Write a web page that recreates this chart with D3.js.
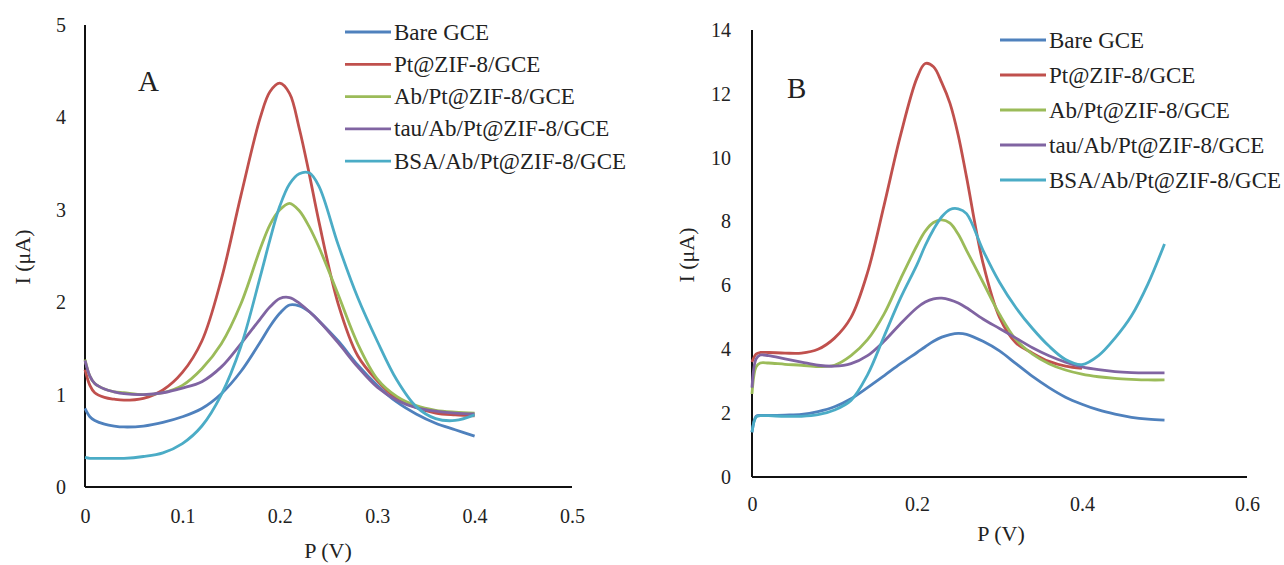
<!DOCTYPE html>
<html>
<head>
<meta charset="utf-8">
<style>
body { margin: 0; background: #fff; }
svg text { font-family: "Liberation Serif", "Times New Roman", serif; fill: #222; }
.axis path { stroke: #111; stroke-width: 2px; }
.axis line { display: none; }
.axis text { font-size: 20px; font-family: "Liberation Serif", serif; fill: #222; }
.curve { fill: none; stroke-width: 2.8px; stroke-linejoin: round; }
</style>
</head>
<body>
<svg id="chart" width="1284" height="565"></svg>
<script src="https://d3js.org/d3.v7.min.js"></script>
<script>

var seriesNames = ["Bare GCE", "Pt@ZIF-8/GCE", "Ab/Pt@ZIF-8/GCE", "tau/Ab/Pt@ZIF-8/GCE", "BSA/Ab/Pt@ZIF-8/GCE"];
var colors = ["#4F81BD", "#C0504D", "#9BBB59", "#8064A2", "#4BACC6"];

// panel A
var xA = [0, 0.005, 0.01, 0.02, 0.03, 0.04, 0.06, 0.08, 0.10, 0.12, 0.14, 0.16, 0.18, 0.19, 0.20, 0.21, 0.22, 0.23, 0.24, 0.26, 0.28, 0.30, 0.32, 0.34, 0.36, 0.38, 0.40];
var bareA = [0.85, 0.76, 0.72, 0.68, 0.66, 0.65, 0.66, 0.70, 0.76, 0.85, 1.01, 1.25, 1.57, 1.74, 1.88, 1.97, 1.96, 1.90, 1.80, 1.58, 1.32, 1.10, 0.92, 0.79, 0.69, 0.62, 0.55];
var ptA   = [1.27, 1.10, 1.02, 0.97, 0.95, 0.94, 0.96, 1.05, 1.24, 1.58, 2.25, 3.15, 4.00, 4.28, 4.37, 4.26, 3.88, 3.40, 2.88, 1.98, 1.42, 1.15, 0.96, 0.86, 0.80, 0.78, 0.77];
var abA   = [1.38, 1.20, 1.12, 1.06, 1.03, 1.02, 1.00, 1.02, 1.10, 1.28, 1.55, 1.98, 2.58, 2.84, 3.00, 3.07, 2.99, 2.82, 2.60, 2.08, 1.55, 1.17, 0.98, 0.88, 0.83, 0.81, 0.80];
var tauA  = [1.37, 1.20, 1.12, 1.06, 1.03, 1.01, 1.00, 1.02, 1.07, 1.14, 1.30, 1.55, 1.82, 1.95, 2.04, 2.05, 1.99, 1.90, 1.80, 1.56, 1.30, 1.08, 0.94, 0.86, 0.82, 0.80, 0.79];
var bsaA  = [0.32, 0.31, 0.31, 0.31, 0.31, 0.31, 0.33, 0.37, 0.47, 0.66, 1.00, 1.52, 2.28, 2.68, 3.04, 3.28, 3.39, 3.40, 3.26, 2.62, 2.05, 1.58, 1.16, 0.87, 0.74, 0.72, 0.78];

// panel B
var xB = [0, 0.005, 0.01, 0.02, 0.04, 0.06, 0.08, 0.10, 0.12, 0.14, 0.16, 0.18, 0.20, 0.21, 0.22, 0.23, 0.24, 0.25, 0.26, 0.28, 0.30, 0.32, 0.34, 0.36, 0.38, 0.40, 0.42, 0.44, 0.46, 0.48, 0.50];
var bareB = [1.40, 1.90, 1.93, 1.93, 1.94, 1.96, 2.05, 2.20, 2.45, 2.80, 3.17, 3.55, 3.90, 4.08, 4.25, 4.38, 4.46, 4.50, 4.47, 4.25, 3.95, 3.55, 3.15, 2.80, 2.50, 2.28, 2.10, 1.97, 1.87, 1.81, 1.78];
var ptB   = [3.60, 3.85, 3.90, 3.90, 3.88, 3.88, 4.00, 4.35, 5.00, 6.40, 8.50, 10.70, 12.50, 12.95, 12.85, 12.35, 11.70, 10.70, 9.40, 6.70, 5.00, 4.20, 3.88, 3.62, 3.47, 3.40];
var abB   = [2.60, 3.45, 3.57, 3.57, 3.53, 3.50, 3.46, 3.50, 3.80, 4.30, 5.10, 6.20, 7.25, 7.70, 7.97, 8.05, 7.95, 7.60, 7.10, 6.10, 5.10, 4.30, 3.85, 3.55, 3.35, 3.22, 3.14, 3.09, 3.06, 3.04, 3.04];
var tauB  = [2.80, 3.70, 3.82, 3.80, 3.70, 3.60, 3.50, 3.47, 3.55, 3.80, 4.25, 4.80, 5.30, 5.48, 5.58, 5.60, 5.55, 5.45, 5.30, 4.95, 4.65, 4.35, 4.05, 3.80, 3.60, 3.45, 3.36, 3.30, 3.27, 3.26, 3.26];
var bsaB  = [1.40, 1.88, 1.92, 1.92, 1.90, 1.90, 1.95, 2.10, 2.40, 3.20, 4.40, 5.60, 6.65, 7.25, 7.75, 8.15, 8.38, 8.40, 8.25, 7.10, 6.10, 5.30, 4.65, 4.10, 3.68, 3.52, 3.80, 4.35, 5.05, 6.05, 7.30];

var ticksXA = [0, 0.1, 0.2, 0.3, 0.4, 0.5];
var ticksYA = [0, 1, 2, 3, 4, 5];
var ticksXB = [0, 0.2, 0.4, 0.6];
var ticksYB = [0, 2, 4, 6, 8, 10, 12, 14];

var svg = d3.select("#chart");

function drawPanel(p) {
  var x = d3.scaleLinear().domain(p.xDomain).range(p.xRange);
  var y = d3.scaleLinear().domain(p.yDomain).range(p.yRange);
  var g = svg.append("g");

  g.append("g")
    .attr("class", "axis")
    .attr("transform", "translate(0," + p.yRange[0] + ")")
    .call(d3.axisBottom(x).tickValues(p.xTicks).tickSize(0).tickPadding(p.xPad)
      .tickFormat(function(d) { return d === 0 ? "0" : d3.format(".1f")(d); }));

  g.append("g")
    .attr("class", "axis")
    .attr("transform", "translate(" + p.xRange[0] + ",0)")
    .call(d3.axisLeft(y).tickValues(p.yTicks).tickSize(0).tickPadding(p.yPad).tickFormat(d3.format("d")));

  g.selectAll(".axis .domain").attr("d", null);
  // plain axis lines
  g.append("line").attr("x1", p.xRange[0]).attr("x2", p.xRange[1])
    .attr("y1", p.yRange[0]).attr("y2", p.yRange[0]).attr("stroke", "#111").attr("stroke-width", 2);
  g.append("line").attr("x1", p.xRange[0]).attr("x2", p.xRange[0])
    .attr("y1", p.yRange[0]).attr("y2", p.yRange[1]).attr("stroke", "#111").attr("stroke-width", 2);

  var line = d3.line()
    .x(function(d) { return x(d[0]); })
    .y(function(d) { return y(d[1]); })
    .curve(d3.curveCatmullRom.alpha(0.5));

  p.series.forEach(function(vals, i) {
    var pts = vals.map(function(v, j) { return [p.xs[j], v]; });
    g.append("path")
      .attr("class", "curve")
      .attr("stroke", colors[i])
      .attr("d", line(pts));
  });

  // axis titles
  g.append("text")
    .attr("x", p.xTitle[0]).attr("y", p.xTitle[1])
    .attr("text-anchor", "middle")
    .style("font-size", "22px")
    .text("P (V)");

  g.append("text")
    .attr("transform", "translate(" + p.yTitle[0] + "," + p.yTitle[1] + ") rotate(-90)")
    .attr("text-anchor", "middle")
    .style("font-size", "22px")
    .text("I (\u03bcA)");

  g.append("text")
    .attr("x", p.label[0]).attr("y", p.label[1])
    .style("font-size", "29px")
    .text(p.labelText);

  // legend
  var leg = g.append("g").attr("transform", "translate(" + p.legend[0] + "," + p.legend[1] + ")");
  seriesNames.forEach(function(name, i) {
    var row = leg.append("g").attr("transform", "translate(0," + (i * p.legend[2]) + ")");
    row.append("line").attr("x1", 0).attr("x2", 46).attr("y1", 0).attr("y2", 0)
      .attr("stroke", colors[i]).attr("stroke-width", 2.8);
    row.append("text").attr("x", 49).attr("y", 0).attr("dy", "0.33em")
      .style("font-size", "23px")
      .text(name);
  });
}

drawPanel({
  xs: xA,
  series: [bareA, ptA, abA, tauA, bsaA],
  xDomain: [0, 0.5], xRange: [85, 572],
  yDomain: [0, 5], yRange: [487, 25],
  xTicks: ticksXA, yTicks: ticksYA,
  xPad: 22, yPad: 19,
  xTitle: [328, 558], yTitle: [30, 257],
  label: [138, 91], labelText: "A",
  legend: [345, 32, 32.3]
});

drawPanel({
  xs: xB,
  series: [bareB, ptB, abB, tauB, bsaB],
  xDomain: [0, 0.6], xRange: [752, 1247],
  yDomain: [0, 14], yRange: [477, 30],
  xTicks: ticksXB, yTicks: ticksYB,
  xPad: 20, yPad: 21,
  xTitle: [1001, 541], yTitle: [694, 255],
  label: [787, 98], labelText: "B",
  legend: [1000, 40, 35]
});

</script>
</body>
</html>
